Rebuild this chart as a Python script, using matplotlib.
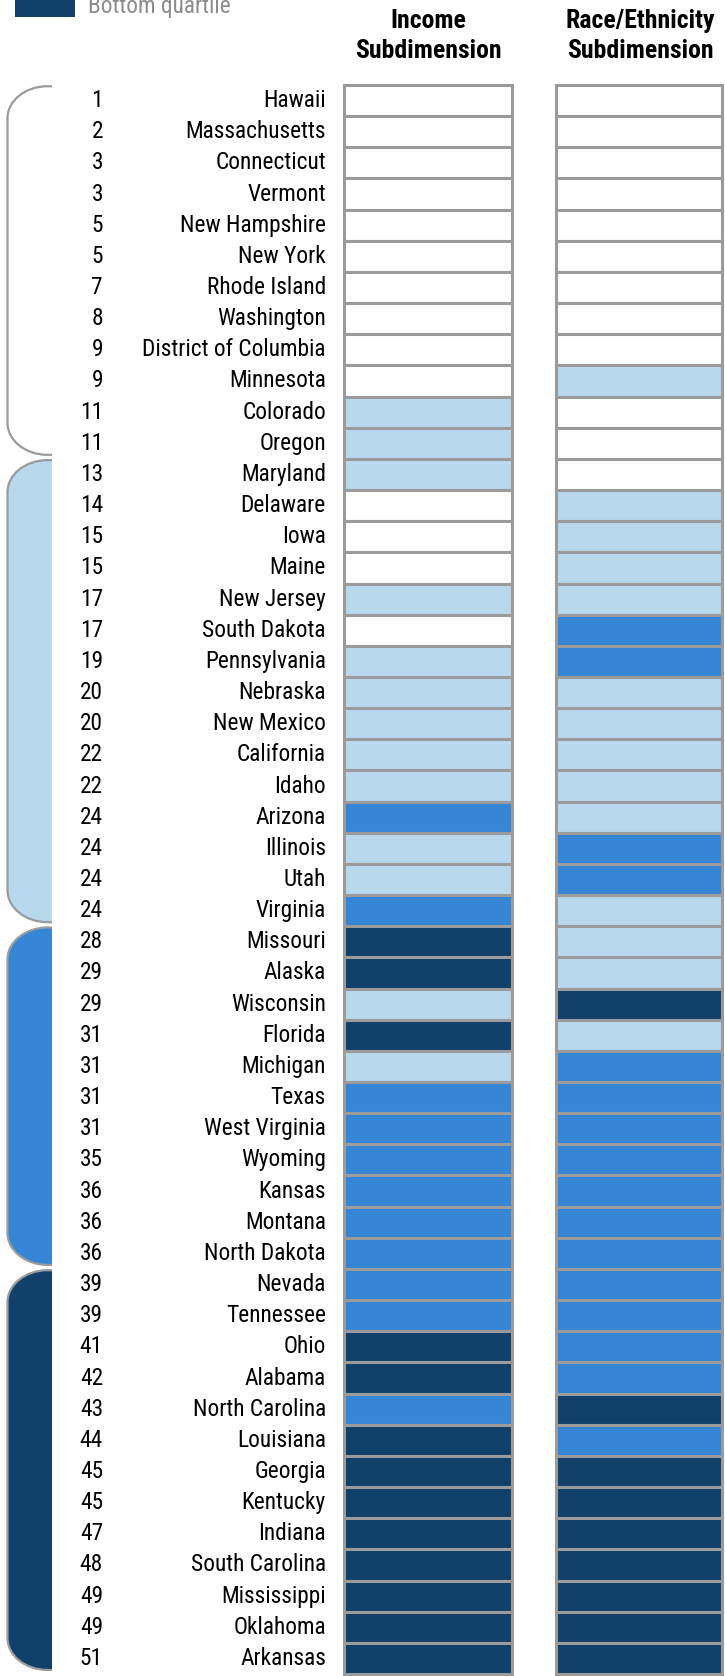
import matplotlib
matplotlib.use('Agg')
import matplotlib.pyplot as plt
from matplotlib.path import Path
from matplotlib.patches import PathPatch, Rectangle

plt.rcParams['font.family'] = ['Roboto Condensed', 'Liberation Sans Narrow', 'Roboto', 'DejaVu Sans']

# rangs et etats
ranks = [1, 2, 3, 3, 5, 5, 7, 8, 9, 9, 11, 11,
         13, 14, 15, 15, 17, 17, 19, 20, 20, 22, 22, 24, 24, 24, 24,
         28, 29, 29, 31, 31, 31, 31, 35, 36, 36, 36,
         39, 39, 41, 42, 43, 44, 45, 45, 47, 48, 49, 49, 51]
states = ['Hawaii', 'Massachusetts', 'Connecticut', 'Vermont', 'New Hampshire',
          'New York', 'Rhode Island', 'Washington', 'District of Columbia',
          'Minnesota', 'Colorado', 'Oregon',
          'Maryland', 'Delaware', 'Iowa', 'Maine', 'New Jersey', 'South Dakota',
          'Pennsylvania', 'Nebraska', 'New Mexico', 'California', 'Idaho',
          'Arizona', 'Illinois', 'Utah', 'Virginia',
          'Missouri', 'Alaska', 'Wisconsin', 'Florida', 'Michigan', 'Texas',
          'West Virginia', 'Wyoming', 'Kansas', 'Montana', 'North Dakota',
          'Nevada', 'Tennessee', 'Ohio', 'Alabama', 'North Carolina', 'Louisiana',
          'Georgia', 'Kentucky', 'Indiana', 'South Carolina', 'Mississippi',
          'Oklahoma', 'Arkansas']

# quartile par sous-dimension (0 = haut, 3 = bas)
income = [0, 0, 0, 0, 0, 0, 0, 0, 0, 0, 1, 1,
          1, 0, 0, 0, 1, 0, 1, 1, 1, 1, 1, 2, 1, 1, 2,
          3, 3, 1, 3, 1, 2, 2, 2, 2, 2, 2,
          2, 2, 3, 3, 2, 3, 3, 3, 3, 3, 3, 3, 3]
race = [0, 0, 0, 0, 0, 0, 0, 0, 0, 1, 0, 0,
        0, 1, 1, 1, 1, 2, 2, 1, 1, 1, 1, 1, 2, 2, 1,
        1, 1, 3, 1, 2, 2, 2, 2, 2, 2, 2,
        2, 2, 2, 2, 3, 2, 3, 3, 3, 3, 3, 3, 3]

# groupes de quartile global (premier rang, dernier rang + 1)
groups = [(0, 12), (12, 27), (27, 38), (38, 51)]

colors = ['#FFFFFF', '#B8D8EE', '#3586D5', '#11406A']
grey = '#9B9B9B'

W, H = 725, 1676
pitch = (1674 - 85) / 51.0
top_px = 85

fig = plt.figure(figsize=(W / 100, H / 100), dpi=100)
ax = fig.add_axes([0, 0, 1, 1])
ax.set_xlim(0, W)
ax.set_ylim((H - top_px) / pitch, -top_px / pitch)
ax.axis('off')

n = len(states)
ypos = [i + 0.5 for i in range(n)]

# colonnes
ax.barh(ypos, 168, left=344.5, height=1, color=[colors[c] for c in income],
        edgecolor=grey, linewidth=2.2, zorder=2)
ax.barh(ypos, 166, left=556.5, height=1, color=[colors[c] for c in race],
        edgecolor=grey, linewidth=2.2, zorder=2)

# textes
fs = 16.8
for i in range(n):
    ax.text(103, ypos[i], str(ranks[i]), ha='right', va='center', fontsize=fs, color='black')
    ax.text(326, ypos[i], states[i], ha='right', va='center', fontsize=fs, color='black')

hy = (36 - top_px) / pitch
ax.text(428, hy, 'Income\nSubdimension', ha='center', va='center', fontsize=18.5,
        fontweight='bold', linespacing=1.35)
ax.text(640, hy, 'Race/Ethnicity\nSubdimension', ha='center', va='center', fontsize=18.5,
        fontweight='bold', linespacing=1.35)

# legende coupee en haut
ax.add_patch(Rectangle((15, -top_px / pitch - 0.5), 60, 0.5 + 17 / pitch, facecolor=colors[3],
                       edgecolor='none'))
ax.text(88, (13 - top_px) / pitch, 'Bottom quartile', ha='left', va='baseline',
        fontsize=fs, color='#8C8C8C')

# accolades
x0, x1 = 7.5, 52
rx, ry = 40, 32 / pitch
k = 0.5523
for g, (a, b) in enumerate(groups):
    t = a + 0.04
    bt = b - 0.13
    verts = [(x1, t), (x0 + rx, t),
             (x0 + rx * (1 - k), t), (x0, t + ry * (1 - k)), (x0, t + ry),
             (x0, bt - ry),
             (x0, bt - ry * (1 - k)), (x0 + rx * (1 - k), bt), (x0 + rx, bt),
             (x1, bt)]
    codes = [Path.MOVETO, Path.LINETO,
             Path.CURVE4, Path.CURVE4, Path.CURVE4,
             Path.LINETO,
             Path.CURVE4, Path.CURVE4, Path.CURVE4,
             Path.LINETO]
    ax.add_patch(PathPatch(Path(verts + [(x1, t)], codes + [Path.CLOSEPOLY]),
                           facecolor=colors[g], edgecolor='none', zorder=1))
    ax.add_patch(PathPatch(Path(verts, codes), facecolor='none', edgecolor=grey,
                           linewidth=1.6, zorder=1.5))

fig.savefig('out.png', dpi=100)
